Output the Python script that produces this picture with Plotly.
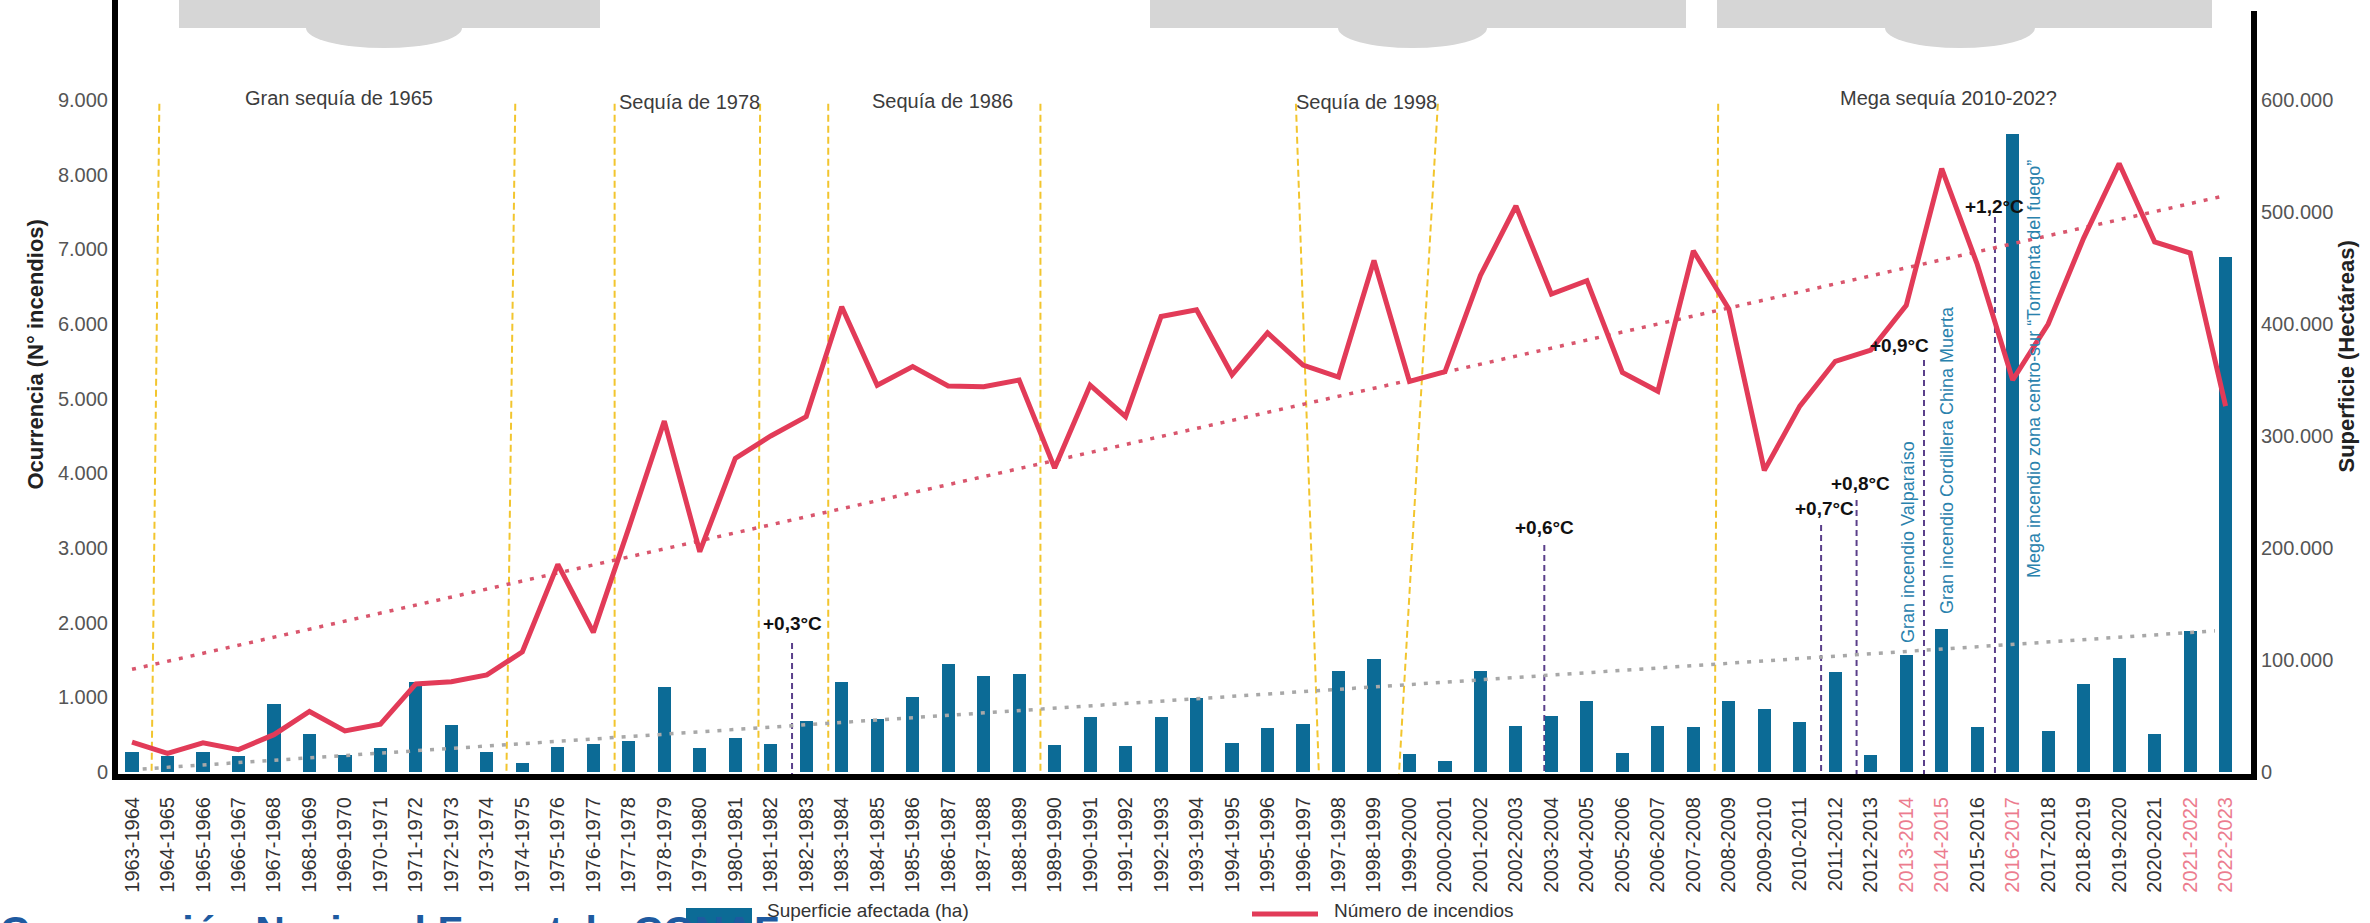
import plotly.graph_objects as go

# ---------------- data ----------------
seasons = [
    "1963-1964", "1964-1965", "1965-1966", "1966-1967", "1967-1968", "1968-1969", "1969-1970", "1970-1971",
    "1971-1972", "1972-1973", "1973-1974", "1974-1975", "1975-1976", "1976-1977", "1977-1978", "1978-1979",
    "1979-1980", "1980-1981", "1981-1982", "1982-1983", "1983-1984", "1984-1985", "1985-1986", "1986-1987",
    "1987-1988", "1988-1989", "1989-1990", "1990-1991", "1991-1992", "1992-1993", "1993-1994", "1994-1995",
    "1995-1996", "1996-1997", "1997-1998", "1998-1999", "1999-2000", "2000-2001", "2001-2002", "2002-2003",
    "2003-2004", "2004-2005", "2005-2006", "2006-2007", "2007-2008", "2008-2009", "2009-2010", "2010-2011",
    "2011-2012", "2012-2013", "2013-2014", "2014-2015", "2015-2016", "2016-2017", "2017-2018", "2018-2019",
    "2019-2020", "2020-2021", "2021-2022", "2022-2023"]

area_ha = [
    17500, 14500, 17500, 14500, 61000, 33500, 15500, 21000, 80000, 42000,
    17500, 8000, 22500, 25000, 28000, 75500, 21000, 30000, 25000, 45500,
    80000, 47500, 67000, 96500, 86000, 87500, 24000, 49000, 23000, 49000,
    66500, 25500, 39500, 42500, 90500, 101000, 16000, 10000, 90500, 41000,
    50000, 63500, 17000, 41500, 40000, 63500, 56500, 44500, 89500, 15000,
    104500, 128000, 40000, 570000, 37000, 79000, 101500, 34000, 125500, 460000]

fires = [
    400, 250, 390, 300, 500, 810, 550, 640, 1180, 1210,
    1300, 1610, 2780, 1870, 3270, 4700, 2950, 4200, 4500, 4760,
    6230, 5180, 5430, 5170, 5160, 5250, 4070, 5180, 4760, 6100,
    6190, 5320, 5880, 5450, 5290, 6850, 5230, 5360, 6650, 7580,
    6400, 6580, 5350, 5100, 6980, 6200, 4040, 4900, 5500, 5650,
    6250, 8080, 6800, 5250, 6000, 7150, 8150, 7100, 6950, 4900]

highlight_seasons = ["2013-2014", "2014-2015", "2016-2017", "2021-2022", "2022-2023"]

fires_trend = [1375, 7720]          # linear trend, first and last season
area_trend = [2700, 126000]         # linear trend, first and last season

fires_ticks = [0, 1000, 2000, 3000, 4000, 5000, 6000, 7000, 8000, 9000]
fires_ticktext = ["0", "1.000", "2.000", "3.000", "4.000", "5.000", "6.000", "7.000", "8.000", "9.000"]
area_ticks = [0, 100000, 200000, 300000, 400000, 500000, 600000]
area_ticktext = ["0", "100.000", "200.000", "300.000", "400.000", "500.000", "600.000"]

drought_labels = ["Gran sequía de 1965", "Sequía de 1978", "Sequía de 1986", "Sequía de 1998", "Mega sequía 2010-202?"]
temp_labels = ["+0,3°C", "+0,6°C", "+0,7°C", "+0,8°C", "+0,9°C", "+1,2°C"]
fire_event_labels = ["Gran incendio Valparaíso", "Gran incendio Cordillera China Muerta",
                     "Mega incendio zona centro-sur “Tormenta del fuego”"]

# ---------------- layout geometry / styles ----------------
W, H = 2370, 923
ML, MR, MT, MB = 115, 116, 0, 146
PW, PH = W - ML - MR, H - MT - MB
FONT = "Liberation Sans, Arial, sans-serif"

BAR = "#0c6b96"
RED = "#e23b58"
YEL = "#f2c52e"
PUR = "#5a3f8a"
BLUE_TXT = "#2a82ad"

X_RANGE = [-0.48, 59.8]
Y_FIRES = [-67, 10339]
Y_AREA = [-67 * 66.667, 10339 * 66.667]


def pxx(x):
    return (x - ML) / PW


def pxy(y):
    return (H - MB - y) / PH


positions = list(range(len(seasons)))
ticktext = [f'<span style="color:#ec7c8e">{s}</span>' if s in highlight_seasons else s for s in seasons]

fig = go.Figure()
fig.add_trace(go.Bar(x=positions, y=area_ha, width=0.37, marker=dict(color=BAR, line=dict(width=0)),
                     yaxis="y", name="Superficie afectada (ha)", showlegend=False))
fig.add_trace(go.Scatter(x=[positions[0] + 0.3, positions[-1] - 0.3], y=area_trend, mode="lines",
                         line=dict(color="#a8a8a8", width=3.5, dash="4px,8px"), yaxis="y", showlegend=False))
fig.add_trace(go.Scatter(x=[positions[0], positions[-1]], y=fires_trend, mode="lines",
                         line=dict(color="#d9566d", width=3.5, dash="4px,8px"), yaxis="y2", showlegend=False))
fig.add_trace(go.Scatter(x=positions, y=fires, mode="lines", line=dict(color=RED, width=5),
                         yaxis="y2", name="Número de incendios", showlegend=False))

shapes = []
# drought period lines (index at top, index at bottom)
drought_lines = [(0.77, 0.55), (10.8, 10.55), (13.6, 13.6), (17.7, 17.65), (19.62, 19.62),
                 (25.6, 25.6), (32.8, 33.45), (36.8, 35.7), (44.7, 44.6)]
for xt, xb in drought_lines:
    shapes.append(dict(type="line", xref="x", yref="y2", x0=xt, y0=8950, x1=xb, y1=Y_FIRES[0],
                       line=dict(color=YEL, width=2, dash="7px,4px"), layer="below"))

# temperature markers: (text x, text y, line x, line top)
temp_pos = [(18.6, 1995, 18.6, 1728), (39.8, 3268, 39.8, 3040), (47.7, 3535, 47.6, 3308),
            (48.7, 3870, 48.6, 3643), (49.8, 5718, 50.5, 5518), (52.5, 7567, 52.5, 7433)]
for tx, ty, lx, ltop in temp_pos:
    shapes.append(dict(type="line", xref="x", yref="y2", x0=lx, y0=ltop, x1=lx, y1=Y_FIRES[0],
                       line=dict(color=PUR, width=2, dash="6px,4px"), layer="below"))

# header bubbles
for (bx0, bx1, cx0, cx1) in [(179, 600, 306, 462), (1150, 1686, 1338, 1487), (1717, 2212, 1885, 2035)]:
    shapes.append(dict(type="circle", xref="paper", yref="paper", x0=pxx(cx0), x1=pxx(cx1),
                       y0=pxy(48), y1=pxy(8), fillcolor="#d6d6d6", line=dict(width=0), layer="above"))
    shapes.append(dict(type="rect", xref="paper", yref="paper", x0=pxx(bx0), x1=pxx(bx1),
                       y0=pxy(28), y1=pxy(-10), fillcolor="#d6d6d6", line=dict(width=0), layer="above"))

# axis lines
shapes.append(dict(type="line", xref="paper", yref="paper", x0=pxx(115), x1=pxx(115), y0=pxy(777), y1=pxy(-5),
                   line=dict(color="black", width=6), layer="above"))
shapes.append(dict(type="line", xref="paper", yref="paper", x0=pxx(2254), x1=pxx(2254), y0=pxy(780), y1=pxy(11),
                   line=dict(color="black", width=6), layer="above"))
shapes.append(dict(type="line", xref="paper", yref="paper", x0=pxx(112), x1=pxx(2257), y0=pxy(777), y1=pxy(777),
                   line=dict(color="black", width=6), layer="above"))

# legend swatches
shapes.append(dict(type="rect", xref="paper", yref="paper", x0=pxx(686), x1=pxx(752), y0=pxy(925), y1=pxy(908),
                   fillcolor=BAR, line=dict(width=0), layer="above"))
shapes.append(dict(type="line", xref="paper", yref="paper", x0=pxx(1252), x1=pxx(1318), y0=pxy(914), y1=pxy(914),
                   line=dict(color=RED, width=5), layer="above"))

annotations = []
# source line (cut at the bottom of the page, as in the reference) - drawn first so the swatch overlaps it
annotations.append(dict(text="<b>Corporación Nacional Forestal - CONAF</b>", x=pxx(-2), y=pxy(906),
                        xref="paper", yref="paper", xanchor="left", yanchor="top", showarrow=False,
                        font=dict(family=FONT, size=41, color="#1e5aa0")))
drought_pos = [(5.83, 9030), (15.7, 8975), (22.85, 8990), (34.8, 8975), (51.2, 9030)]
for txt, (x, y) in zip(drought_labels, drought_pos):
    annotations.append(dict(text=txt, x=x, y=y, xref="x", yref="y2", showarrow=False,
                            font=dict(family=FONT, size=20, color="#3c3c3c")))
for txt, (tx, ty, lx, lt) in zip(temp_labels, temp_pos):
    annotations.append(dict(text=f"<b>{txt}</b>", x=tx, y=ty, xref="x", yref="y2", showarrow=False,
                            font=dict(family=FONT, size=19, color="#111111")))
event_pos = [(50.05, 3080), (51.15, 4178), (53.6, 5397)]
for txt, (x, y) in zip(fire_event_labels, event_pos):
    annotations.append(dict(text=txt, x=x, y=y, xref="x", yref="y2", showarrow=False, textangle=-90,
                            font=dict(family=FONT, size=18, color=BLUE_TXT)))

# axis titles
annotations.append(dict(text="<b>Ocurrencia (N° incendios)</b>", x=pxx(20), y=pxy(355), xref="paper", yref="paper",
                        showarrow=False, textangle=-90, font=dict(family=FONT, size=22, color="#222222")))
annotations.append(dict(text="<b>Superficie (Hectáreas)</b>", x=pxx(2360), y=pxy(357), xref="paper", yref="paper",
                        showarrow=False, textangle=-90, font=dict(family=FONT, size=22, color="#222222")))
# legend texts
annotations.append(dict(text="Superficie afectada (ha)", x=pxx(765), y=pxy(910), xref="paper", yref="paper",
                        xanchor="left", yanchor="middle", showarrow=False,
                        font=dict(family=FONT, size=19, color="#333333")))
annotations.append(dict(text="Número de incendios", x=pxx(1332), y=pxy(910), xref="paper", yref="paper",
                        xanchor="left", yanchor="middle", showarrow=False,
                        font=dict(family=FONT, size=19, color="#333333")))

fig.update_layout(
    width=W, height=H,
    margin=dict(l=ML, r=MR, t=MT, b=MB, pad=0),
    paper_bgcolor="white", plot_bgcolor="white",
    showlegend=False,
    bargap=0,
    shapes=shapes,
    annotations=annotations,
    xaxis=dict(range=X_RANGE, tickmode="array", tickvals=positions, ticktext=ticktext, tickangle=-90,
               ticks="outside", ticklen=11, tickcolor="rgba(0,0,0,0)", showgrid=False, zeroline=False,
               showline=False, automargin=False, tickfont=dict(family=FONT, size=20, color="#333333")),
    yaxis=dict(range=Y_AREA, side="right", tickmode="array", tickvals=area_ticks, ticktext=area_ticktext,
               ticks="outside", ticklen=2, tickcolor="rgba(0,0,0,0)", showgrid=False, zeroline=False,
               showline=False, automargin=False, tickfont=dict(family=FONT, size=20, color="#555555")),
    yaxis2=dict(range=Y_FIRES, side="left", overlaying="y", tickmode="array", tickvals=fires_ticks,
                ticktext=fires_ticktext, ticks="outside", ticklen=2, tickcolor="rgba(0,0,0,0)",
                showgrid=False, zeroline=False, showline=False, automargin=False,
                tickfont=dict(family=FONT, size=20, color="#555555")),
)

fig.write_html("out.html", config={"displayModeBar": False},
               post_script="document.body.style.margin='0';document.body.style.overflow='hidden';")
